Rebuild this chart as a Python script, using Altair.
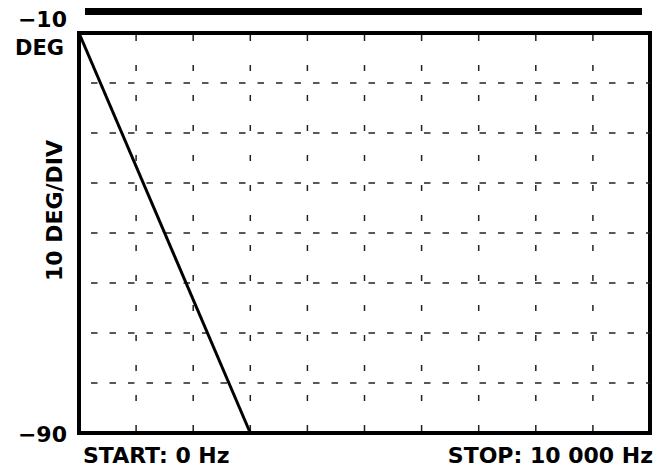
import altair as alt
import pandas as pd

# ---- data ----
freq_range = [0, 10000]          # Hz, start / stop
deg_range = [-10, -90]           # DEG, top / bottom
trace_freq = [0, 3000]           # Hz
trace_deg = [-10, -90]           # DEG
v_grid = [1000, 2000, 3000, 4000, 5000, 6000, 7000, 8000, 9000]
h_grid = [-20, -30, -40, -50, -60, -70, -80]
bar_freq = [105, 9860]           # top black bar span
bar_deg = [-5.0, -6.4]
top_labels = ["\u221210", "DEG"]
bottom_label = ["\u221290"]
start_label = ["START: 0 Hz"]
stop_label = ["STOP: 10 000 Hz"]
y_title = "10 DEG/DIV"

FONT = "DejaVu Sans"
FS = 21

xs = alt.Scale(domain=[freq_range[0], freq_range[1]], nice=False, zero=False)
ys = alt.Scale(domain=[deg_range[1], deg_range[0]], nice=False, zero=False)

trace_df = pd.DataFrame({"f": trace_freq, "d": trace_deg})
v_df = pd.DataFrame({"f": v_grid})
h_df = pd.DataFrame({"d": h_grid})

base_y_axis = alt.Axis(labels=False, ticks=False, domain=False, grid=False,
                       title=y_title, titleFont=FONT, titleFontSize=22,
                       titleFontWeight="bold", titleColor="black",
                       titleAngle=270, titleAlign="center", titleBaseline="middle",
                       titleX=-25, titleY=177)

vgrid = alt.Chart(v_df).mark_rule(color="#222", strokeWidth=1.5,
                                  strokeDash=[6, 24], strokeDashOffset=28).encode(
    x=alt.X("f:Q", scale=xs, axis=None),
    y=alt.datum(deg_range[0], scale=ys, axis=base_y_axis),
    y2=alt.datum(deg_range[1]),
)

hgrid = alt.Chart(h_df).mark_rule(color="#222", strokeWidth=1.5,
                                  strokeDash=[6.5, 12], strokeDashOffset=6.5).encode(
    y=alt.Y("d:Q", scale=ys),
    x=alt.datum(freq_range[0], scale=xs),
    x2=alt.datum(freq_range[1]),
)

trace = alt.Chart(trace_df).mark_line(color="black", strokeWidth=3).encode(
    x=alt.X("f:Q", scale=xs),
    y=alt.Y("d:Q", scale=ys),
)

bar = alt.Chart(pd.DataFrame({"f1": [bar_freq[0]], "f2": [bar_freq[1]],
                              "d1": [bar_deg[0]], "d2": [bar_deg[1]]})).mark_rect(
    color="black", clip=False).encode(
    x=alt.X("f1:Q", scale=xs), x2="f2:Q",
    y=alt.Y("d1:Q", scale=ys), y2="d2:Q",
)

def txt(label, fval, dval, dx, dy, align, baseline="middle", size=FS):
    return alt.Chart(pd.DataFrame({"t": [label], "f": [fval], "d": [dval]})).mark_text(
        font=FONT, fontSize=size, fontWeight="bold", color="black",
        align=align, baseline=baseline, dx=dx, dy=dy,
    ).encode(x=alt.X("f:Q", scale=xs), y=alt.Y("d:Q", scale=ys), text="t:N")

labels = [
    txt(top_labels[0], freq_range[0], deg_range[0], -12, -13, "right", size=22),
    txt(top_labels[1], freq_range[0], deg_range[0], -15, 16, "right"),
    txt(bottom_label[0], freq_range[0], deg_range[1], -12, 2, "right", size=22),
    txt(start_label[0], freq_range[0], deg_range[1], 4, 30, "left", "alphabetic", size=22),
    txt(stop_label[0], freq_range[1], deg_range[1], 3, 30, "right", "alphabetic", size=22),
]

chart = alt.layer(vgrid, hgrid, trace, bar, *labels).properties(
    width=571, height=400,
    autosize=alt.AutoSizeParams(type="none"),
    padding={"left": 71, "top": 25, "right": 5, "bottom": 35},
).configure_view(stroke="black", strokeWidth=4)

chart.save("out.html", embed_options={"renderer": "svg", "actions": False})
